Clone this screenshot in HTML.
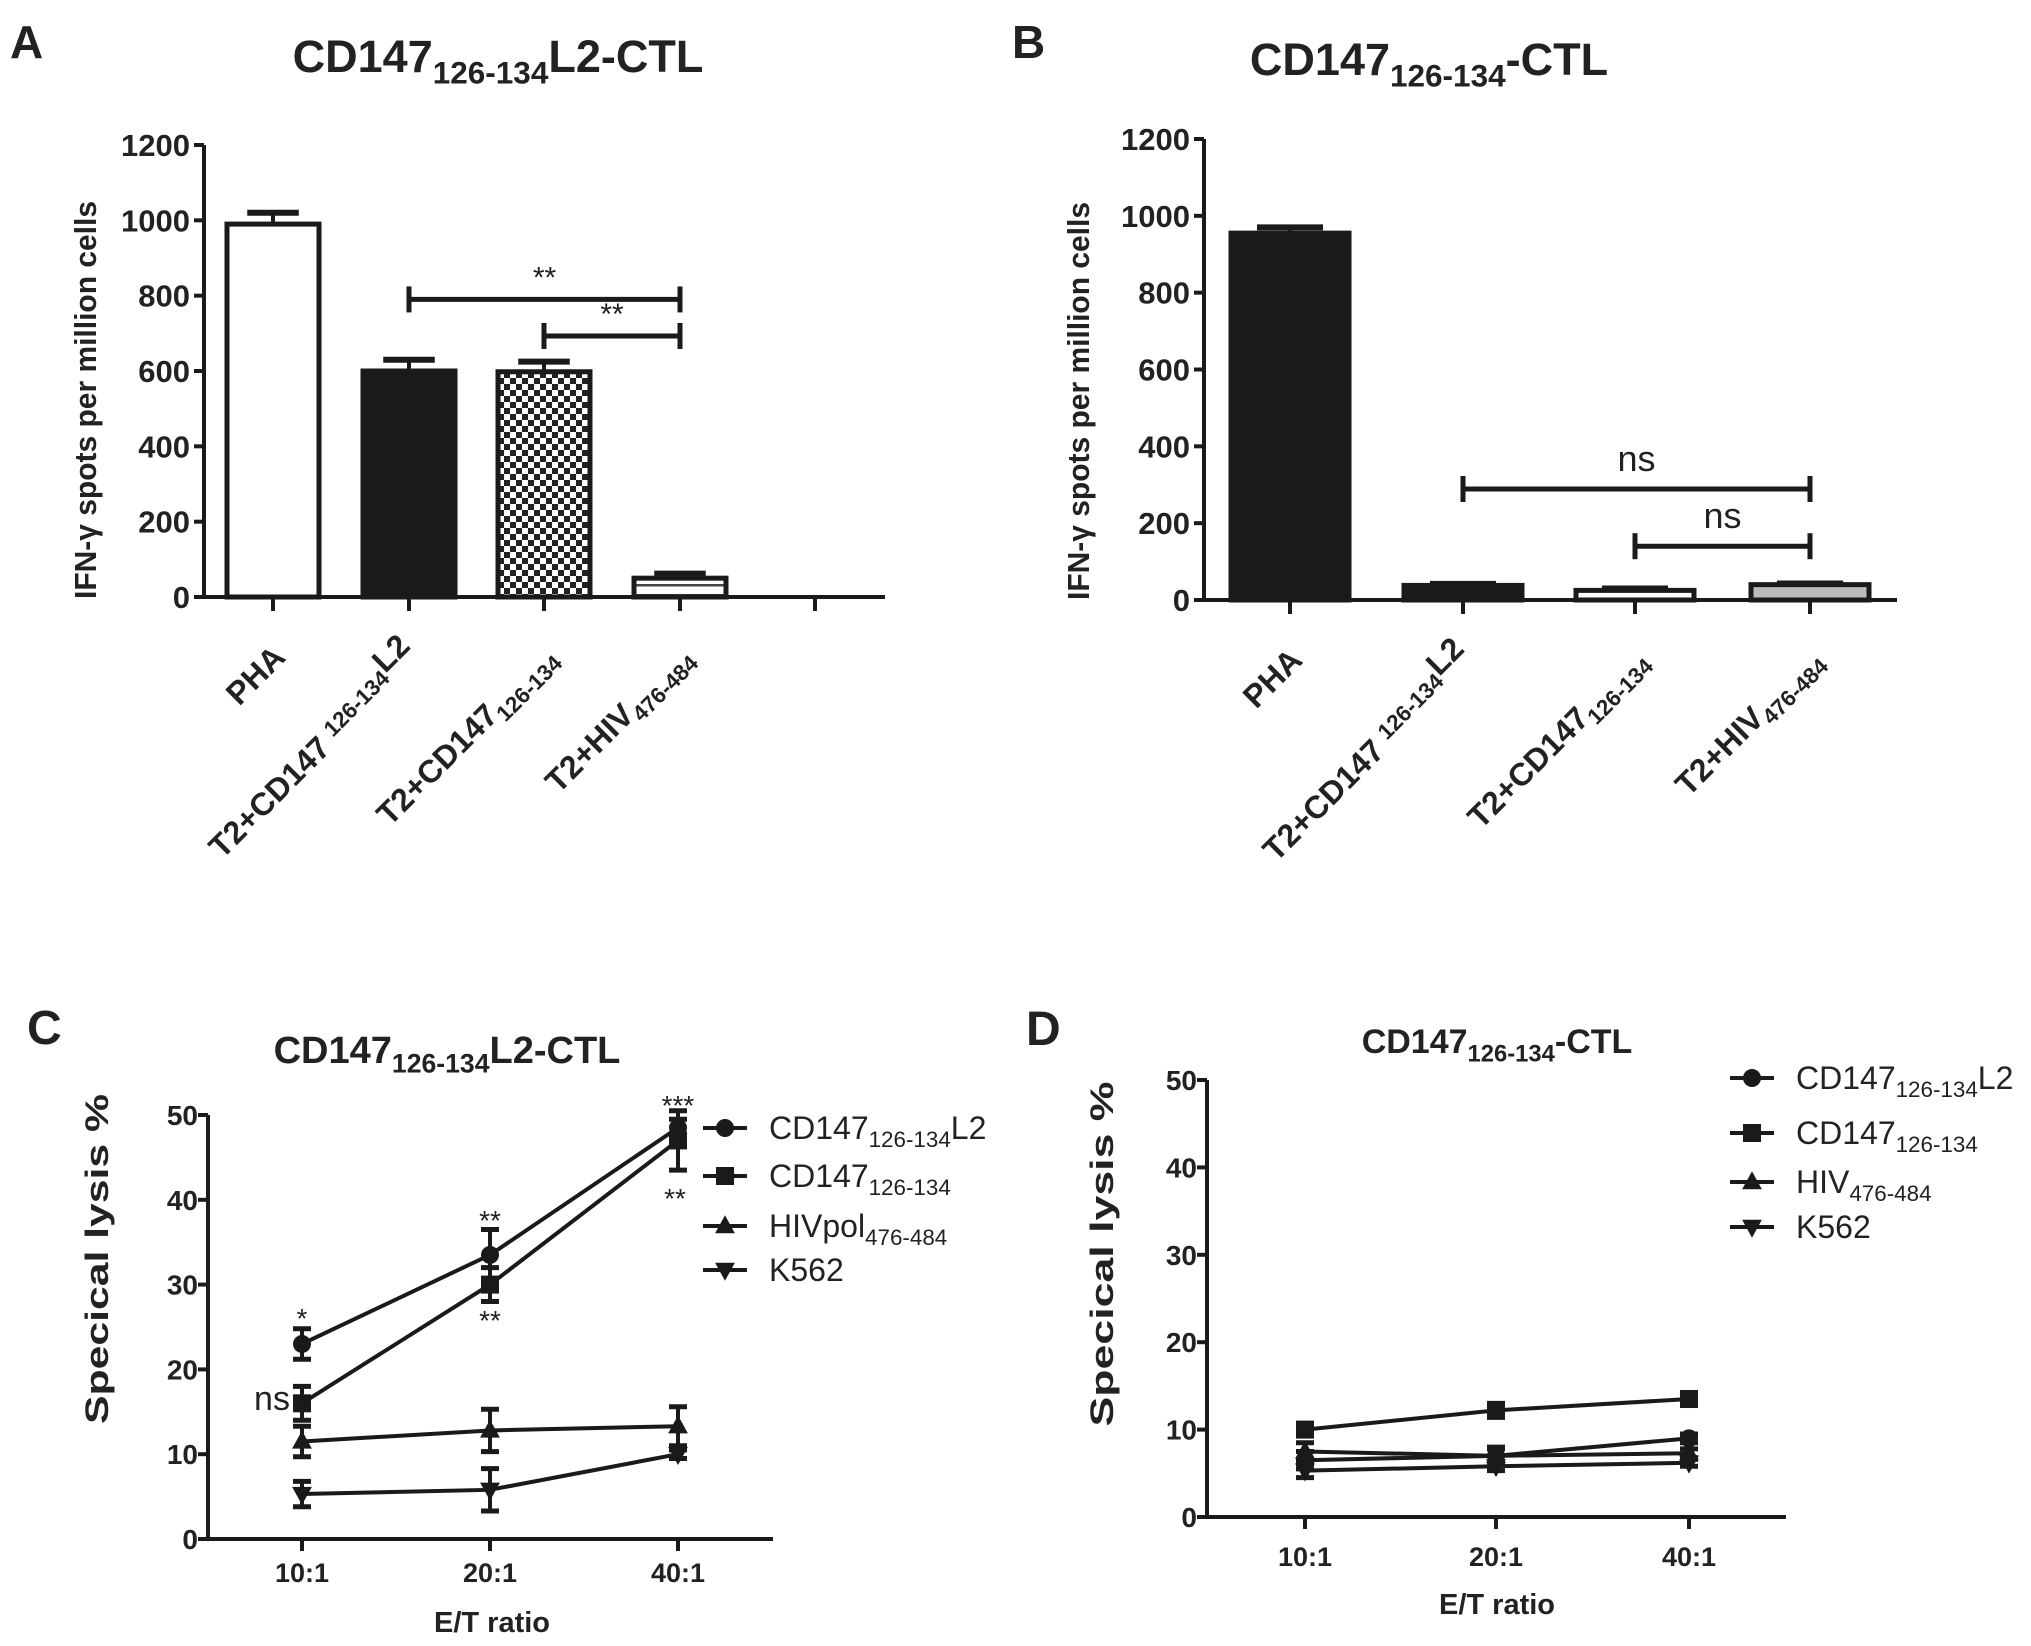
<!DOCTYPE html>
<html><head><meta charset="utf-8"><style>
html,body{margin:0;padding:0;background:#fff}
svg{display:block}
text{font-family:"Liberation Sans",Arial,sans-serif;fill:#222}
</style></head><body>
<svg id="fig" width="2031" height="1646" viewBox="0 0 2031 1646" xmlns="http://www.w3.org/2000/svg">
<defs>
<pattern id="checker" width="12" height="12" patternUnits="userSpaceOnUse"><rect width="12" height="12" fill="#fff"/><rect width="6" height="6" fill="#222"/><rect x="6" y="6" width="6" height="6" fill="#222"/></pattern>
<pattern id="stripes" width="10" height="10" patternUnits="userSpaceOnUse"><rect width="10" height="10" fill="#fff"/><rect y="4" width="10" height="2.5" fill="#444"/></pattern>
</defs>
</svg>
<script>
// ===== Panel A data =====
const catsA = ["PHA","T2+CD147 126-134L2","T2+CD147 126-134","T2+HIV 476-484"];
const valsA = [990, 600, 598, 50];
const errA  = [30, 30, 27, 12];
const fillA = ["#fff","#1a1a1a","url(#checker)","url(#stripes)"];
const sigA  = [[1,3,790,"**"],[2,3,693,"**"]];
// ===== Panel B data =====
const valsB = [955, 38, 25, 40];
const errB  = [15, 4, 5, 3];
const fillB = ["#1a1a1a","#1a1a1a","#fff","#bbb"];
const sigB  = [[1,3,289,"ns"],[2,3,140,"ns"]];
const yTicksBar = [0,200,400,600,800,1000,1200];
// ===== Panel C data =====
const ratios = ["10:1","20:1","40:1"];
const cL2  = [23, 33.5, 48.5];   const cL2e  = [1.8, 3, 1];
const cSq  = [16, 30, 47];       const cSqe  = [2, 2, 3.5];
const cHiv = [11.5, 12.8, 13.3]; const cHive = [1.8, 2.5, 2.3];
const cK   = [5.3, 5.8, 10];     const cKe   = [1.5, 2.5, 0.5];
// ===== Panel D data =====
const dL2  = [6.5, 7, 9];        const dL2e  = [1, 0.8, 0.5];
const dSq  = [10, 12.2, 13.5];   const dSqe  = [0.5, 0.8, 0.5];
const dHiv = [7.5, 7, 7.3];      const dHive = [1, 1, 0.5];
const dK   = [5.3, 5.8, 6.2];    const dKe   = [0.8, 0.5, 0.4];
const yTicksLine = [0,10,20,30,40,50];

const NS="http://www.w3.org/2000/svg";
const svg=document.getElementById('fig');
function el(tag,attrs,parent){const e=document.createElementNS(NS,tag);for(const k in attrs)e.setAttribute(k,attrs[k]);(parent||svg).appendChild(e);return e;}
function line(x1,y1,x2,y2,w,p){return el('line',{x1,y1,x2,y2,stroke:'#1a1a1a','stroke-width':w||4},p);}
function richText(parent,x,y,parts,size,bold,anchor,extra){
  const t=el('text',Object.assign({x,y,'font-size':size,'text-anchor':anchor||'start'},extra||{}),parent);
  if(bold)t.setAttribute('font-weight','bold');
  parts.forEach(p=>{const s=el('tspan',{},t);s.textContent=p[0];if(p[1]==='sub'){s.setAttribute('font-size',size*0.7);s.setAttribute('dy',size*0.25);}else if(p[1]==='up'){s.setAttribute('font-size',size*0.7);s.setAttribute('dy',-size*0.25);}else if(p[1]==='back'){s.setAttribute('dy',-size*0.25);}});
  return t;
}

function barPanel(cfg){
  const g=el('g',{});
  
  
  const y=v=>cfg.y0-(v/1200)*(cfg.y0-cfg.y1200);
  const ax=line(cfg.ax,cfg.y1200,cfg.ax,cfg.y0,4,g);
  
  const xa=line(cfg.ax,cfg.y0,cfg.axEnd,cfg.y0,4,g);
  
  yTicksBar.forEach(v=>{
    line(cfg.ax-10,y(v),cfg.ax,y(v),4,g);
    const t=el('text',{x:cfg.ax-14,y:y(v)+11,'font-size':31,'font-weight':'bold','text-anchor':'end'},g);
    t.textContent=v;
    
    
  });
  cfg.ticks.forEach(tx=>line(tx,cfg.y0,tx,cfg.y0+14,4,g));
  cfg.vals.forEach((v,i)=>{
    const cx=cfg.ticks[i], w=cfg.bw;
    const yt=y(v), ye=y(v+cfg.err[i]);
    line(cx,yt,cx,ye,4,g);
    line(cx-w*0.28,ye,cx+w*0.28,ye,6,g);
    const r=el('rect',{x:cx-w/2,y:yt,width:w,height:cfg.y0-yt,fill:cfg.fills[i],stroke:'#1a1a1a','stroke-width':5},g);
    
    
  });
  cfg.sig.forEach(s=>{
    const x1=cfg.ticks[s[0]],x2=cfg.ticks[s[1]],yy=y(s[2]);
    line(x1,yy,x2,yy,5,g);line(x1,yy-13,x1,yy+13,5,g);line(x2,yy-13,x2,yy+13,5,g);
    const t=el('text',{x:(x1+x2)/2,y:yy-(s[3]==='ns'?18:12),'font-size':s[3]==='ns'?36:30,'text-anchor':'middle'},g);
    t.textContent=s[3];
    
    
  });
  const labels=[[["PHA"]],[["T2+CD147 "],["126-134","up"],["L2","back"]],[["T2+CD147"],["126-134","sub"]],[["T2+HIV"],["476-484","sub"]]];
  labels.forEach((parts,i)=>{
    const tx=cfg.ticks[i]+14, ty=cfg.y0+62;
    const t=richText(g,tx,ty,parts,32,true,'end',{transform:`rotate(-45 ${tx} ${ty})`});
    
    
  });
  const yt=el('text',{x:0,y:0,'font-size':31,'font-weight':'bold','text-anchor':'middle',textLength:398,lengthAdjust:'spacingAndGlyphs',transform:`translate(${cfg.ytx},${cfg.yty}) rotate(-90)`},g);
  yt.textContent='IFN-γ  spots per million cells';
  
  
  const ti=richText(g,cfg.titleX,cfg.titleY,cfg.title,45,true,'middle');
  
  
  const L=el('text',{x:cfg.letterX,y:cfg.letterY,'font-size':46,'font-weight':'bold'},g);
  L.textContent=cfg.letter;
  
  
}

barPanel({name:'panel-a-bar-chart',ax:204,axEnd:885,y0:597,y1200:145,ticks:[273,409,544,680],bw:92,
  vals:valsA,err:errA,fills:fillA,sig:sigA,ytx:96,yty:400,titleX:498,titleY:72,
  title:[["CD147"],["126-134","sub"],["L2-CTL","back"]],letter:"A",letterX:10,letterY:58});
line(815,597,815,611,4);
barPanel({name:'panel-b-bar-chart',ax:1204,axEnd:1897,y0:600,y1200:139,ticks:[1290,1463,1635,1810],bw:118,
  vals:valsB,err:errB,fills:fillB,sig:sigB,ytx:1089,yty:401,titleX:1429,titleY:75,
  title:[["CD147"],["126-134","sub"],["-CTL","back"]],letter:"B",letterX:1012,letterY:58});

function marker(g,type,x,y,s){
  s=s||9;
  if(type==='circle')return el('circle',{cx:x,cy:y,r:s,fill:'#1a1a1a'},g);
  if(type==='square')return el('rect',{x:x-s,y:y-s,width:2*s,height:2*s,fill:'#1a1a1a'},g);
  if(type==='up')return el('polygon',{points:`${x},${y-s*1.2} ${x-s*1.1},${y+s*0.8} ${x+s*1.1},${y+s*0.8}`,fill:'#1a1a1a'},g);
  return el('polygon',{points:`${x},${y+s*1.2} ${x-s*1.1},${y-s*0.8} ${x+s*1.1},${y-s*0.8}`,fill:'#1a1a1a'},g);
}
function linePanel(cfg){
  const g=el('g',{});
  
  
  const y=v=>cfg.y0-(v/50)*(cfg.y0-cfg.y50);
  const ya=line(cfg.ax,cfg.y50,cfg.ax,cfg.y0,4,g);
  
  const xa=line(cfg.ax,cfg.y0,cfg.axEnd,cfg.y0,4,g);
  
  yTicksLine.forEach(v=>{
    line(cfg.ax-10,y(v),cfg.ax,y(v),4,g);
    const t=el('text',{x:cfg.ax-10,y:y(v)+10,'font-size':28,'font-weight':'bold','text-anchor':'end'},g);
    t.textContent=v;
    
    
  });
  ratios.forEach((r,i)=>{
    const tx=cfg.ticks[i];
    line(tx,cfg.y0,tx,cfg.y0+12,4,g);
    const t=el('text',{x:tx,y:cfg.xlabY,'font-size':27,'font-weight':'bold','text-anchor':'middle'},g);
    t.textContent=r;
    
    
  });
  cfg.series.forEach((s,si)=>{
    const pts=s.v.map((v,i)=>cfg.ticks[i]+','+y(v)).join(' ');
    const pl=el('polyline',{points:pts,fill:'none',stroke:'#1a1a1a','stroke-width':4},g);
    
    
    s.v.forEach((v,i)=>{
      const x=cfg.ticks[i],e=s.e[i];
      line(x,y(v-e),x,y(v+e),4,g);
      line(x-9,y(v+e),x+9,y(v+e),5,g);line(x-9,y(v-e),x+9,y(v-e),5,g);
      const m=marker(g,s.m,x,y(v));
      
      
    });
    const ly=cfg.legY[si];
    line(cfg.legX-22,ly,cfg.legX+22,ly,4,g);
    marker(g,s.m,cfg.legX,ly,9);
    const t=richText(g,cfg.legX+44,ly+11,s.label,32,false,'start');
    
    
  });
  (cfg.annots||[]).forEach(a=>{
    const t=el('text',{x:a[0],y:a[1],'font-size':a[2]==='ns'?34:28,'text-anchor':'middle'},g);
    t.textContent=a[2];
    
    
  });
  const xt=el('text',{x:cfg.xtX,y:cfg.xtY,'font-size':29,'font-weight':'bold','text-anchor':'middle'},g);
  xt.textContent='E/T ratio';
  
  
  const yt=el('text',{x:0,y:0,'font-size':32,'font-weight':'bold','text-anchor':'middle',textLength:cfg.ytLen,lengthAdjust:'spacingAndGlyphs',transform:`translate(${cfg.ytx},${cfg.yty}) rotate(-90)`},g);
  yt.textContent='Specical lysis %';
  
  
  const ti=richText(g,cfg.titleX,cfg.titleY,cfg.title,cfg.titleSize,true,'middle');
  
  
  const L=el('text',{x:cfg.letterX,y:cfg.letterY,'font-size':48,'font-weight':'bold'},g);
  L.textContent=cfg.letter;
  
  
}
const lblL2=[["CD147"],["126-134","sub"],["L2","back"]];
const lblSq=[["CD147"],["126-134","sub"]];
linePanel({name:'panel-c-line-chart',ax:208,axEnd:773,y0:1539,y50:1115,ticks:[302,490,678],xlabY:1582,
  series:[{key:'cd147-l2',v:cL2,e:cL2e,m:'circle',label:lblL2},{key:'cd147',v:cSq,e:cSqe,m:'square',label:lblSq},
          {key:'hivpol',v:cHiv,e:cHive,m:'up',label:[["HIVpol"],["476-484","sub"]]},{key:'k562',v:cK,e:cKe,m:'down',label:[["K562"]]}],
  legX:725,legY:[1128,1176,1226,1270],
  annots:[[302,1328,"*"],[272,1410,"ns"],[490,1230,"**"],[490,1330,"**"],[678,1115,"***"],[675,1208,"**"]],
  xtX:492,xtY:1632,ytx:108,yty:1259,ytLen:330,titleX:447,titleY:1063,titleSize:38,title:[["CD147"],["126-134","sub"],["L2-CTL","back"]],
  letter:"C",letterX:27,letterY:1044});
linePanel({name:'panel-d-line-chart',ax:1207,axEnd:1786,y0:1517,y50:1080,ticks:[1305,1496,1689],xlabY:1566,
  series:[{key:'cd147-l2',v:dL2,e:dL2e,m:'circle',label:lblL2},{key:'cd147',v:dSq,e:dSqe,m:'square',label:lblSq},
          {key:'hiv',v:dHiv,e:dHive,m:'up',label:[["HIV"],["476-484","sub"]]},{key:'k562',v:dK,e:dKe,m:'down',label:[["K562"]]}],
  legX:1752,legY:[1078,1133,1182,1227],annots:[],
  xtX:1497,xtY:1614,ytx:1113,yty:1254,ytLen:345,titleX:1497,titleY:1053,titleSize:34,title:[["CD147"],["126-134","sub"],["-CTL","back"]],
  letter:"D",letterX:1026,letterY:1045});
</script>
</body></html>
